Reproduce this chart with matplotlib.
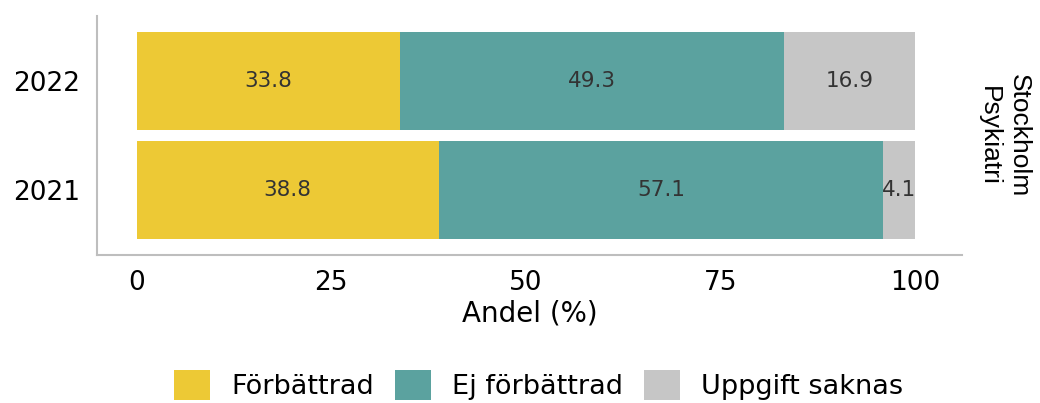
import numpy as np
import matplotlib.pyplot as plt

plt.rcParams['font.family'] = ['DejaVu Sans']

# data
years = ['2021', '2022']
forbattrad = [38.8, 33.8]
ej_forbattrad = [57.1, 49.3]
saknas = [4.1, 16.9]
series_names = ['Förbättrad', 'Ej förbättrad', 'Uppgift saknas']
colors = ['#EDC935', '#5BA29F', '#C6C6C6']
strip_label = 'Stockholm\nPsykiatri'

fig = plt.figure(figsize=(10.4, 4.03), dpi=100)
ax = fig.add_axes([97 / 1040, 1 - 255 / 403, 865 / 1040, 239 / 403])

ypos = np.arange(1, len(years) + 1)
left = np.zeros(len(years))
for vals, name, col in zip([forbattrad, ej_forbattrad, saknas], series_names, colors):
    vals = np.array(vals)
    ax.barh(ypos, vals, left=left, height=0.9, color=col, label=name)
    for y, l, v in zip(ypos, left, vals):
        ax.text(l + v / 2, y, f'{v:.1f}', ha='center', va='center',
                fontsize=15.5, color='#333333')
    left = left + vals

ax.set_xlim(-5.1, 106.0)
ax.set_ylim(0.404, 2.596)
ax.set_yticks(ypos)
ax.set_yticklabels(years)
ax.set_xticks([0, 25, 50, 75, 100])
ax.tick_params(axis='both', length=0, labelsize=19, colors='black')
ax.tick_params(axis='x', pad=11)
ax.tick_params(axis='y', pad=12)
ax.set_xlabel('Andel (%)', fontsize=20, labelpad=2)

for s in ['top', 'right']:
    ax.spines[s].set_visible(False)
for s in ['left', 'bottom']:
    ax.spines[s].set_color('#BEBEBE')
    ax.spines[s].set_linewidth(1.5)

fig.text(1004 / 1040, 1 - 136 / 403, strip_label, rotation=270, ha='center',
         va='center', multialignment='center', fontsize=19,
         family='Liberation Sans', linespacing=1.35)

fig.legend(loc='center', bbox_to_anchor=(0.518, 1 - 385 / 403), ncol=3,
           frameon=False, fontsize=19.5, handlelength=1.33, handleheight=1.33,
           columnspacing=0.78, handletextpad=0.78)

fig.savefig('out.png', dpi=100)
